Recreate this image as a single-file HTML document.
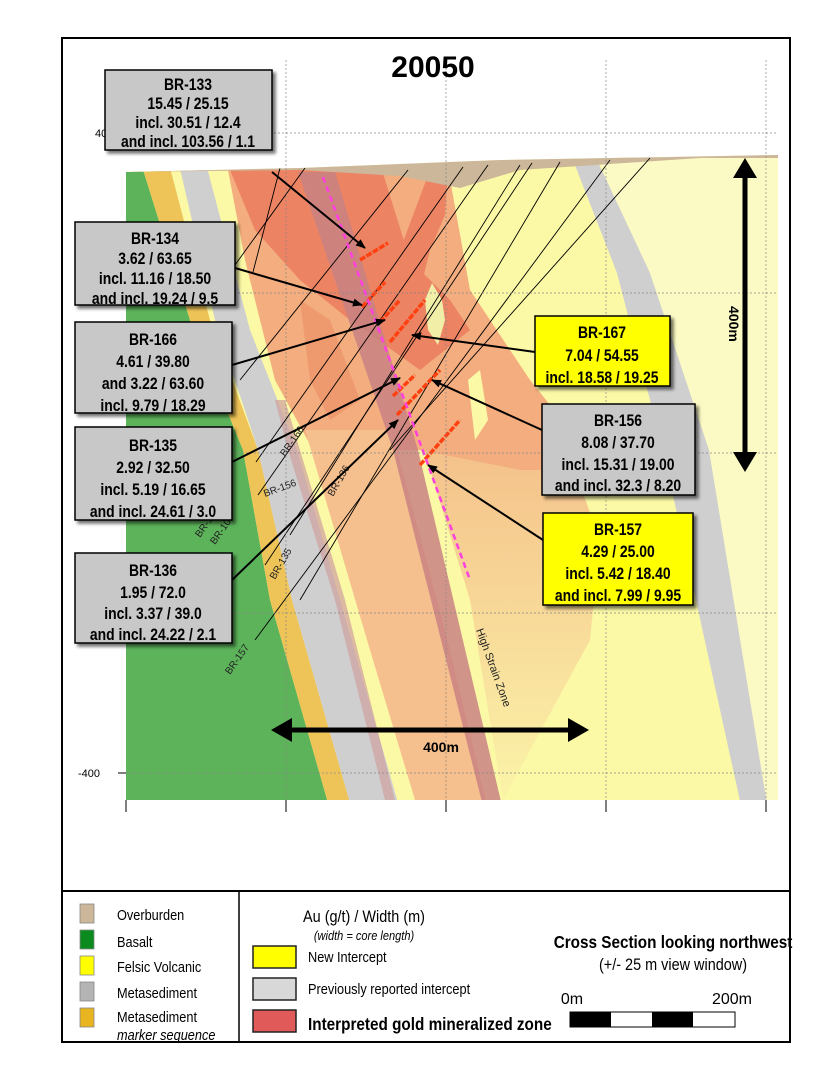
<!DOCTYPE html>
<html><head><meta charset="utf-8"><style>
html,body{margin:0;padding:0;background:#fff}
svg{display:block}
text{font-family:"Liberation Sans",Arial,sans-serif}
</style></head><body>
<svg width="828" height="1072" viewBox="0 0 828 1072" xmlns="http://www.w3.org/2000/svg">
<defs>
<marker id="ah" markerWidth="10" markerHeight="8" refX="9" refY="4" orient="auto" markerUnits="userSpaceOnUse"><path d="M0,0 L10,4 L0,8 z" fill="#000"/></marker>
<filter id="sh" x="-10%" y="-10%" width="130%" height="130%"><feDropShadow dx="3" dy="3" stdDeviation="1.5" flood-color="#000" flood-opacity="0.55"/></filter>
<clipPath id="plot"><polygon points="126,172 300,168 500,160 778,155 778,800 126,800"/></clipPath>
<linearGradient id="fo" x1="0" y1="0" x2="0" y2="1"><stop offset="0" stop-color="#f3b886"/><stop offset="1" stop-color="#fbf3a8"/></linearGradient>
</defs>
<rect x="0" y="0" width="828" height="1072" fill="#fff"/>
<rect x="62" y="38" width="728" height="1004" fill="#fff" stroke="#000" stroke-width="2"/>

<g clip-path="url(#plot)">
<rect x="120" y="150" width="670" height="660" fill="#fbf9a6"/>
<polygon points="600,160 790,150 790,810 765,810" fill="#fcfac4"/>
<polygon points="120,160 140,160 190,320 243,450 270,600 330,810 120,810" fill="#5cb35a"/>
<polygon points="140,160 168,160 210,320 258,450 292,600 352,810 330,810 270,600 243,450 190,320" fill="#eec458"/>
<polygon points="178,160 205,160 250,330 297,450 340,600 400,810 352,810 292,600 258,450 215,320" fill="#cfcfcf"/>
<polygon points="275,400 285,400 300,450 345,600 395,800 385,800 335,600 288,450" fill="#cfa0a0" opacity="0.7"/>
<polygon points="418,430 560,430 600,540 590,640 503,800 470,600" fill="url(#fo)" opacity="0.9"/>
<polygon points="228,170 448,168 470,290 530,380 570,430 590,470 520,470 420,450 388,450 313,450 275,380 245,260" fill="#f3ad7e"/>
<polygon points="305,430 392,430 450,650 488,810 418,810 370,650" fill="#f6c08e"/>
<polygon points="230,170 382,170 410,260 450,300 470,330 420,370 350,320 300,280 255,230" fill="#ec8363"/>
<polygon points="430,170 448,170 445,215 430,250 420,290 400,250" fill="#ec8363"/>
<polygon points="300,300 330,320 360,400 330,420 310,380" fill="#ef9a6e"/>
<polygon points="432,283 442,300 445,320 438,345 428,330 425,300" fill="#f1eea8"/>
<polygon points="468,380 480,370 488,420 475,440" fill="#fbf9a6"/>
<polygon points="298,172 335,172 418,450 503,810 484,810 393,450" fill="#c98282" opacity="0.85"/>
<polygon points="573,160 597,160 650,273 709,450 768,810 742,810 663,450 617,273" fill="#cfcfcf"/>
<polygon points="120,150 790,150 790,158 700,158 520,170 460,188 400,176 300,170 120,172" fill="#cdb79a"/>
<g stroke="#000" stroke-width="0.9" fill="none">
<line x1="305" y1="168" x2="235" y2="265"/>
<line x1="280" y1="168" x2="253" y2="272"/>
<line x1="408" y1="170" x2="240" y2="380"/>
<line x1="463" y1="167" x2="256" y2="462"/>
<line x1="488" y1="165" x2="258" y2="495"/>
<line x1="520" y1="165" x2="290" y2="535"/>
<line x1="532" y1="163" x2="265" y2="565"/>
<line x1="560" y1="162" x2="300" y2="600"/>
<line x1="610" y1="160" x2="255" y2="640"/>
<line x1="650" y1="158" x2="390" y2="450"/>
</g>
<g stroke="#ff4010" stroke-width="3.5" stroke-dasharray="6,1.5">
<line x1="360" y1="260" x2="388" y2="243"/>
<line x1="362" y1="307" x2="385" y2="282"/>
<line x1="380" y1="322" x2="400" y2="300"/>
<line x1="390" y1="342" x2="425" y2="300"/>
<line x1="393" y1="396" x2="415" y2="375"/>
<line x1="397" y1="415" x2="440" y2="370"/>
<line x1="420" y1="465" x2="460" y2="420"/>
</g>
<line x1="323" y1="177" x2="470" y2="580" stroke="#ff40e0" stroke-width="2.5" stroke-dasharray="6,4"/>
</g>

<g stroke="#888" stroke-width="0.7" stroke-dasharray="2,2">
<line x1="126" y1="133" x2="778" y2="133"/><line x1="126" y1="293" x2="778" y2="293"/>
<line x1="126" y1="453" x2="778" y2="453"/><line x1="126" y1="613" x2="778" y2="613"/>
<line x1="126" y1="773" x2="778" y2="773"/>
<line x1="286" y1="60" x2="286" y2="800"/><line x1="446" y1="60" x2="446" y2="800"/>
<line x1="606" y1="60" x2="606" y2="800"/><line x1="766" y1="60" x2="766" y2="800"/>
</g>
<g stroke="#000" stroke-width="1">
<line x1="126" y1="800" x2="126" y2="812"/><line x1="286" y1="800" x2="286" y2="812"/>
<line x1="446" y1="800" x2="446" y2="812"/><line x1="606" y1="800" x2="606" y2="812"/>
<line x1="766" y1="800" x2="766" y2="812"/>
<line x1="118" y1="133" x2="126" y2="133"/><line x1="118" y1="773" x2="126" y2="773"/>
</g>
<text x="95" y="137" font-size="11">400</text>
<text x="78" y="777" font-size="11">-400</text>

<text x="433" y="77" font-size="30" font-weight="bold" text-anchor="middle">20050</text>

<g font-size="10" fill="#222">
<text transform="translate(285,457) rotate(-55)">BR-166</text>
<text transform="translate(265,497) rotate(-20)">BR-156</text>
<text transform="translate(333,497) rotate(-60)">BR-136</text>
<text transform="translate(275,580) rotate(-60)">BR-135</text>
<text transform="translate(230,675) rotate(-55)">BR-157</text>
<text transform="translate(200,538) rotate(-55)">BR-1</text>
<text transform="translate(215,545) rotate(-55)">BR-10</text>
<text transform="translate(476,630) rotate(70)" font-size="11">High Strain Zone</text>
</g>

<line x1="745" y1="172" x2="745" y2="458" stroke="#000" stroke-width="5"/>
<polygon points="745,158 733,178 757,178" fill="#000"/>
<polygon points="745,472 733,452 757,452" fill="#000"/>
<text transform="translate(729,306) rotate(90)" font-size="14" font-weight="bold">400m</text>
<line x1="285" y1="730" x2="575" y2="730" stroke="#000" stroke-width="5"/>
<polygon points="271,730 292,718 292,742" fill="#000"/>
<polygon points="589,730 568,718 568,742" fill="#000"/>
<text x="441" y="752" font-size="14" font-weight="bold" text-anchor="middle">400m</text>

<g stroke="#000" stroke-width="2" marker-end="url(#ah)">
<line x1="272" y1="172" x2="365" y2="248"/>
<line x1="235" y1="268" x2="362" y2="305"/>
<line x1="232" y1="365" x2="385" y2="320"/>
<line x1="232" y1="462" x2="400" y2="378"/>
<line x1="232" y1="580" x2="398" y2="420"/>
<line x1="535" y1="352" x2="412" y2="335"/>
<line x1="542" y1="430" x2="432" y2="380"/>
<line x1="543" y1="540" x2="428" y2="465"/>
</g>

<g stroke="#000" stroke-width="1.5" filter="url(#sh)">
<rect x="105" y="70" width="167" height="80" fill="#c8c8c8"/>
<rect x="75" y="222" width="160" height="83" fill="#c8c8c8"/>
<rect x="75" y="322" width="157" height="91" fill="#c8c8c8"/>
<rect x="75" y="427" width="157" height="93" fill="#c8c8c8"/>
<rect x="75" y="553" width="157" height="90" fill="#c8c8c8"/>
<rect x="535" y="316" width="135" height="70" fill="#ffff00"/>
<rect x="542" y="404" width="153" height="91" fill="#c8c8c8"/>
<rect x="543" y="513" width="150" height="92" fill="#ffff00"/>
</g>
<g font-weight="bold" font-size="17" text-anchor="middle">
<g transform="translate(188,0) scale(0.82,1)"><text x="0" y="90">BR-133</text><text x="0" y="109">15.45 / 25.15</text><text x="0" y="128">incl. 30.51 / 12.4</text><text x="0" y="147">and incl. 103.56 / 1.1</text></g>
<g transform="translate(155,0) scale(0.82,1)"><text x="0" y="244">BR-134</text><text x="0" y="264">3.62 / 63.65</text><text x="0" y="284">incl. 11.16 / 18.50</text><text x="0" y="304">and incl. 19.24 / 9.5</text></g>
<g transform="translate(153,0) scale(0.82,1)"><text x="0" y="345">BR-166</text><text x="0" y="367">4.61 / 39.80</text><text x="0" y="389">and 3.22 / 63.60</text><text x="0" y="411">incl. 9.79 / 18.29</text></g>
<g transform="translate(153,0) scale(0.82,1)"><text x="0" y="451">BR-135</text><text x="0" y="473">2.92 / 32.50</text><text x="0" y="495">incl. 5.19 / 16.65</text><text x="0" y="517">and incl. 24.61 / 3.0</text></g>
<g transform="translate(153,0) scale(0.82,1)"><text x="0" y="576">BR-136</text><text x="0" y="598">1.95 / 72.0</text><text x="0" y="619">incl. 3.37 / 39.0</text><text x="0" y="640">and incl. 24.22 / 2.1</text></g>
<g transform="translate(602,0) scale(0.82,1)"><text x="0" y="338">BR-167</text><text x="0" y="361">7.04 / 54.55</text><text x="0" y="383">incl. 18.58 / 19.25</text></g>
<g transform="translate(618,0) scale(0.82,1)"><text x="0" y="426">BR-156</text><text x="0" y="448">8.08 / 37.70</text><text x="0" y="470">incl. 15.31 / 19.00</text><text x="0" y="491">and incl. 32.3 / 8.20</text></g>
<g transform="translate(618,0) scale(0.82,1)"><text x="0" y="535">BR-157</text><text x="0" y="557">4.29 / 25.00</text><text x="0" y="579">incl. 5.42 / 18.40</text><text x="0" y="601">and incl. 7.99 / 9.95</text></g>
</g>

<line x1="62" y1="891" x2="790" y2="891" stroke="#000" stroke-width="2"/>
<line x1="239" y1="891" x2="239" y2="1042" stroke="#000" stroke-width="1.5"/>
<g stroke="#888" stroke-width="0.8">
<rect x="80" y="904" width="14" height="19" fill="#cdb79a"/>
<rect x="80" y="930" width="14" height="19" fill="#0b8a1e"/>
<rect x="80" y="956" width="14" height="19" fill="#ffff00"/>
<rect x="80" y="982" width="14" height="19" fill="#b4b4b4"/>
<rect x="80" y="1008" width="14" height="19" fill="#e8b520"/>
</g>
<g transform="translate(117,0) scale(0.85,1)" font-size="15">
<text x="0" y="920">Overburden</text>
<text x="0" y="947">Basalt</text>
<text x="0" y="972">Felsic Volcanic</text>
<text x="0" y="998">Metasediment</text>
<text x="0" y="1022">Metasediment</text>
<text x="0" y="1040" font-style="italic">marker sequence</text>
</g>
<g transform="translate(364,0) scale(0.85,1)" text-anchor="middle">
<text x="0" y="922" font-size="17">Au (g/t) / Width (m)</text>
<text x="0" y="940" font-size="13" font-style="italic">(width = core length)</text>
</g>
<g stroke="#222" stroke-width="1.5">
<rect x="253" y="946" width="43" height="22" fill="#ffff00"/>
<rect x="253" y="978" width="43" height="22" fill="#d8d8d8"/>
<rect x="253" y="1010" width="43" height="22" fill="#e05a5a"/>
</g>
<g transform="translate(308,0) scale(0.85,1)">
<text x="0" y="962" font-size="15">New Intercept</text>
<text x="0" y="994" font-size="15">Previously reported  intercept</text>
<text x="0" y="1030" font-size="18" font-weight="bold">Interpreted gold mineralized zone</text>
</g>
<g transform="translate(673,0) scale(0.85,1)" text-anchor="middle">
<text x="0" y="948" font-size="18" font-weight="bold">Cross Section looking northwest</text>
<text x="0" y="970" font-size="17">(+/- 25 m view window)</text>
</g>
<g transform="translate(0,0)" font-size="16" text-anchor="middle">
<text x="572" y="1004">0m</text>
<text x="732" y="1004">200m</text>
</g>
<rect x="570" y="1012" width="165" height="15" fill="#fff" stroke="#000" stroke-width="1"/>
<rect x="570" y="1012" width="41" height="15" fill="#000"/>
<rect x="652" y="1012" width="41" height="15" fill="#000"/>
</svg>
</body></html>
